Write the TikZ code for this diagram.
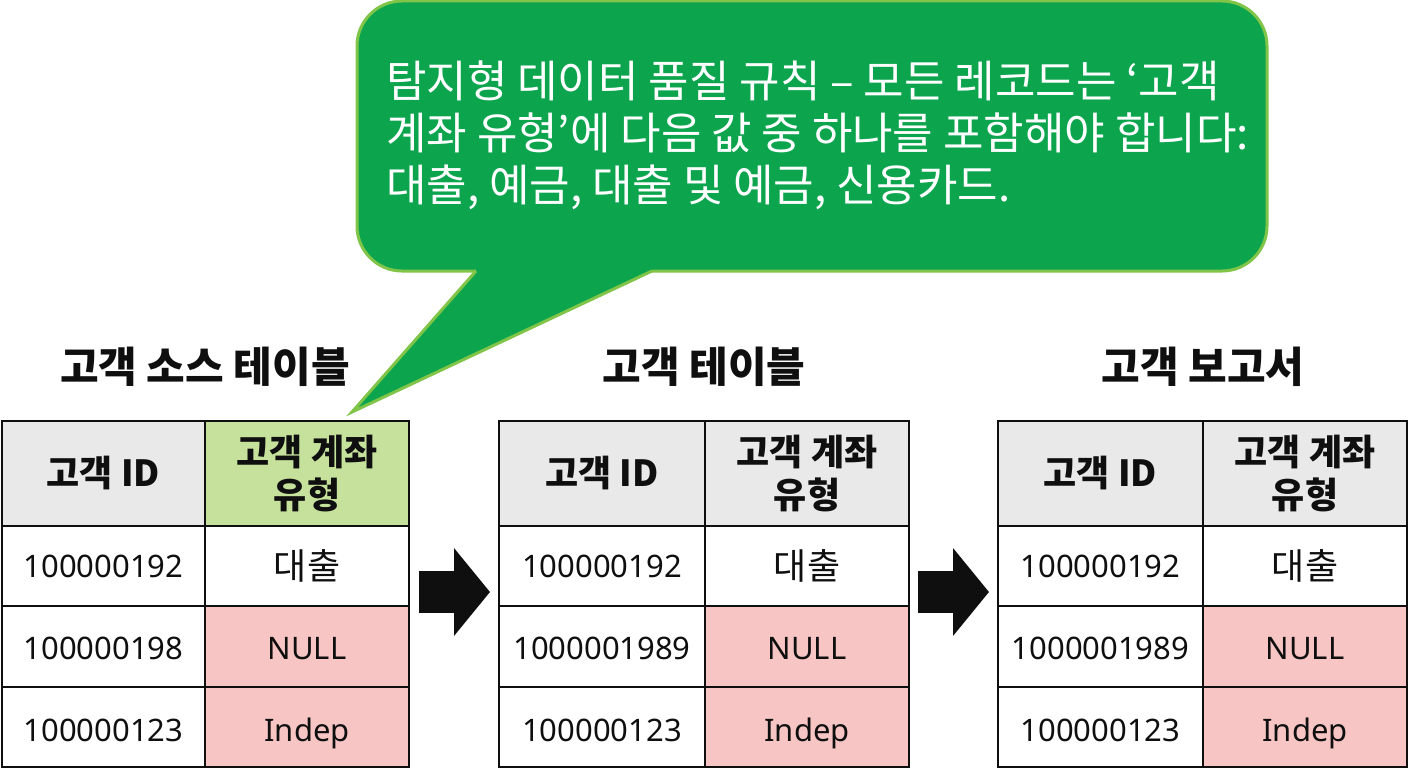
\documentclass[tikz,border=0pt]{standalone}
\usepackage{fontspec}
\setmainfont{Noto Sans}
\newfontfamily\kr{Noto Sans CJK KR}
\usetikzlibrary{arrows.meta}
\definecolor{bubfill}{RGB}{12,165,78}
\definecolor{bubborder}{RGB}{128,196,72}
\definecolor{hdrgray}{RGB}{233,233,233}
\definecolor{hdrgreen}{RGB}{197,225,156}
\definecolor{badpink}{RGB}{247,197,195}
\definecolor{ink}{RGB}{15,15,15}
\tikzset{
  cell/.style={draw=ink, line width=2pt, inner sep=0pt, text=ink, align=center,
    font=\fontsize{31}{36}\selectfont},
  val/.style={text height=23pt, text depth=0pt},
  hdr/.style={font=\kr\bfseries\fontsize{36}{43}\selectfont},
  title/.style={text=ink, inner sep=0pt, font=\kr\bfseries\fontsize{42}{48}\selectfont},
  bubline/.style={text=white, inner sep=0pt, anchor=base west, font=\kr\fontsize{44}{52}\selectfont},
  fat/.style={line width=42pt, ink, -{Triangle[length={36pt 0}, width={86pt 0}]}}
}
% #1 prefix, #2 x0, #3 xm, #4 x1, #5 header-2 fill, #6 second id
\newcommand\dtable[6]{%
  \node[cell,hdr,fill=hdrgray,minimum width={#3-#2},minimum height=105] (#1a) at ({(#2+#3)/2},473.5) {고객 ID};
  \node[cell,hdr,fill=#5,minimum width={#4-#3},minimum height=105] (#1b) at ({(#3+#4)/2},473.5) {고객 계좌\\유형};
  \node[cell,val,fill=white,minimum width={#3-#2},minimum height=80] (#1c) at ({(#2+#3)/2},566) {100000192};
  \node[cell,val,fill=white,minimum width={#4-#3},minimum height=80] (#1d) at ({(#3+#4)/2},566) {\kr\fontsize{36}{40}\selectfont\raisebox{-2pt}{대출}};
  \node[cell,val,fill=white,minimum width={#3-#2},minimum height=81] (#1e) at ({(#2+#3)/2},646.5) {\raisebox{-1.5pt}{#6}};
  \node[cell,val,fill=badpink,minimum width={#4-#3},minimum height=81] (#1f) at ({(#3+#4)/2},646.5) {\raisebox{-1.5pt}{NULL}};
  \node[cell,val,fill=white,minimum width={#3-#2},minimum height=80] (#1g) at ({(#2+#3)/2},727) {\raisebox{-2.5pt}{100000123}};
  \node[cell,val,fill=badpink,minimum width={#4-#3},minimum height=80] (#1h) at ({(#3+#4)/2},727) {\raisebox{-2.5pt}{Indep}};
}
\begin{document}
\begin{tikzpicture}[x=1pt,y=-1pt]
\useasboundingbox[fill=white] (0,0) rectangle (1408,768);

% speech bubble
\node[draw=bubborder, fill=bubfill, line width=3pt, rounded corners=45pt,
      minimum width=910, minimum height=270, inner sep=0pt] (bubble) at (812,136) {};
\coordinate (tailL) at (476,271);
\coordinate (tailR) at (652,271);
\coordinate (tip) at (352,412);
\fill[bubfill] (tip) -- (tailL) -- (476,267) -- (652,267) -- (tailR) -- cycle;
\draw[bubborder, line width=3pt, line join=miter] (tailL) -- (tip) -- (tailR);
\node[bubline] (l1) at (386,97) {탐지형 데이터 품질 규칙 – 모든 레코드는 ‘고객};
\node[bubline] (l2) at (386,149) {계좌 유형’에 다음 값 중 하나를 포함해야 합니다:};
\node[bubline] (l3) at (386,201) {대출, 예금, 대출 및 예금, 신용카드.};

% titles
\node[title] (tt1) at (205,367) {고객 소스 테이블};
\node[title] (tt2) at (704,367) {고객 테이블};
\node[title] (tt3) at (1203,367) {고객 보고서};

% tables
\dtable{s}{2}{205}{409}{hdrgreen}{100000198}
\dtable{m}{499}{705}{909}{hdrgray}{1000001989}
\dtable{r}{998}{1203}{1407}{hdrgray}{1000001989}

% arrows
\coordinate (a1s) at (419,592);
\coordinate (a1e) at (490,592);
\coordinate (a2s) at (918,592);
\coordinate (a2e) at (989,592);
\draw[fat] (a1s) -- (a1e);
\draw[fat] (a2s) -- (a2e);
\end{tikzpicture}
\end{document}
